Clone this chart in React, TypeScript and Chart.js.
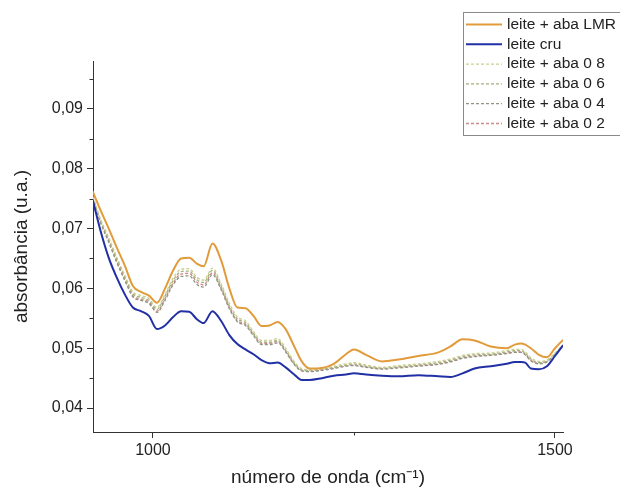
import React, { useEffect, useRef } from 'react';
import { Chart, registerables } from 'chart.js';

Chart.register(...registerables);

// wavenumber grid (cm-1)
const waveNumbers = [
  925, 935, 945, 955, 965, 975, 985, 995, 1005, 1015, 1025, 1035, 1045, 1055, 1063, 1074, 1085, 1095, 1105, 1115,
  1125, 1135, 1145, 1155, 1165, 1175, 1185, 1195, 1210, 1225, 1240, 1250, 1265, 1285, 1305, 1330, 1355, 1370, 1385,
  1400, 1420, 1440, 1450, 1458, 1463, 1470, 1480, 1490, 1500, 1510,
];

const leiteAbaLMR = [
  0.0762, 0.073, 0.07, 0.0668, 0.0638, 0.0604, 0.0594, 0.0588, 0.0576, 0.06, 0.063, 0.065, 0.0651, 0.0641, 0.0637,
  0.0675, 0.0646, 0.06, 0.0568, 0.0567, 0.0554, 0.0537, 0.0538, 0.0544, 0.0532, 0.0505, 0.0478, 0.0466, 0.0467,
  0.0474, 0.049, 0.0498, 0.0489, 0.0478, 0.0481, 0.0487, 0.0493, 0.0503, 0.0515, 0.0513, 0.0503, 0.05, 0.0506,
  0.0508, 0.0506, 0.05, 0.0489, 0.0485, 0.05, 0.0514,
];

const leiteCru = [
  0.0748, 0.0695, 0.0651, 0.0618, 0.059, 0.0568, 0.0562, 0.0554, 0.0532, 0.0538, 0.0552, 0.0562, 0.0561, 0.0548,
  0.0542, 0.0562, 0.0545, 0.0522, 0.0507, 0.0498, 0.049, 0.048, 0.0475, 0.0476, 0.0468, 0.0457, 0.0447, 0.0447,
  0.045, 0.0454, 0.0456, 0.0458, 0.0456, 0.0454, 0.0453, 0.0455, 0.0453, 0.0452, 0.0458, 0.0466, 0.047, 0.0474,
  0.0477, 0.0477, 0.0476, 0.0466, 0.0465, 0.047, 0.0487, 0.0505,
];

const leiteAba08 = [
  0.0754, 0.0715, 0.0685, 0.0652, 0.0622, 0.0594, 0.0588, 0.0583, 0.0568, 0.059, 0.0617, 0.0632, 0.0633, 0.0618,
  0.0614, 0.0634, 0.0607, 0.0575, 0.0552, 0.0546, 0.0528, 0.0513, 0.0513, 0.0516, 0.05, 0.0479, 0.0466, 0.0464,
  0.0466, 0.047, 0.0474, 0.0476, 0.0472, 0.0468, 0.0471, 0.0474, 0.0478, 0.0482, 0.0488, 0.0491, 0.0492, 0.0496,
  0.0498, 0.0498, 0.0494, 0.0484, 0.0478, 0.048, 0.0492, 0.0505,
];

const leiteAba06 = [
  0.0753, 0.0713, 0.0682, 0.0649, 0.0619, 0.0591, 0.0585, 0.058, 0.0565, 0.0587, 0.0613, 0.0628, 0.0629, 0.0614,
  0.061, 0.063, 0.0603, 0.0571, 0.0549, 0.0543, 0.0525, 0.051, 0.051, 0.0513, 0.0497, 0.0477, 0.0464, 0.0463,
  0.0465, 0.0468, 0.0472, 0.0474, 0.047, 0.0467, 0.0469, 0.0472, 0.0476, 0.048, 0.0486, 0.0489, 0.049, 0.0494,
  0.0496, 0.0496, 0.0492, 0.0482, 0.0476, 0.0479, 0.0491, 0.0504,
];

const leiteAba04 = [
  0.0751, 0.0709, 0.0677, 0.0643, 0.0613, 0.0586, 0.058, 0.0575, 0.056, 0.058, 0.0606, 0.062, 0.0621, 0.0606,
  0.0602, 0.0623, 0.0597, 0.0566, 0.0544, 0.0538, 0.0521, 0.0506, 0.0506, 0.0509, 0.0494, 0.0474, 0.0462, 0.0461,
  0.0463, 0.0466, 0.047, 0.0471, 0.0468, 0.0465, 0.0467, 0.047, 0.0473, 0.0477, 0.0483, 0.0486, 0.0488, 0.0491,
  0.0493, 0.0493, 0.0489, 0.0479, 0.0474, 0.0477, 0.049, 0.0503,
];

const leiteAba02 = [
  0.0752, 0.0711, 0.0679, 0.0646, 0.0616, 0.0588, 0.0582, 0.0577, 0.0562, 0.0583, 0.0609, 0.0624, 0.0625, 0.061,
  0.0606, 0.0626, 0.06, 0.0568, 0.0546, 0.054, 0.0523, 0.0508, 0.0508, 0.0511, 0.0495, 0.0475, 0.0463, 0.0462,
  0.0464, 0.0467, 0.0471, 0.0472, 0.0469, 0.0466, 0.0468, 0.0471, 0.0474, 0.0478, 0.0484, 0.0487, 0.0489, 0.0492,
  0.0494, 0.0494, 0.049, 0.048, 0.0475, 0.0478, 0.049, 0.0506,
];

const seriesLabels = ['leite + aba LMR', 'leite cru', 'leite + aba 0 8', 'leite + aba 0 6', 'leite + aba 0 4', 'leite + aba 0 2'];
const xMajorTicks = [1000, 1500];
const xMinorTicks = [1250];
const yMajorTicks = [0.04, 0.05, 0.06, 0.07, 0.08, 0.09];
const yMinorTicks = [0.045, 0.055, 0.065, 0.075, 0.085, 0.095];

const FONT = "'Liberation Sans', Arial, sans-serif";
const INK = '#222';

const toPoints = (ys: number[]) => waveNumbers.map((x, i) => ({ x, y: ys[i] }));

// small ticks + boxed legend drawn on top of the chart
const decorPlugin = {
  id: 'decor',
  afterDraw(chart: any) {
    const { ctx, chartArea, scales } = chart;
    ctx.save();
    ctx.strokeStyle = '#333';
    ctx.lineWidth = 1;
    ctx.beginPath();
    yMinorTicks.forEach((v) => {
      const py = Math.round(scales.y.getPixelForValue(v)) + 0.5;
      ctx.moveTo(chartArea.left - 3.5, py);
      ctx.lineTo(chartArea.left, py);
    });
    xMinorTicks.forEach((v) => {
      const px = Math.round(scales.x.getPixelForValue(v)) + 0.5;
      ctx.moveTo(px, chartArea.bottom);
      ctx.lineTo(px, chartArea.bottom + 3.5);
    });
    ctx.stroke();

    // legend
    const bx = 463.5;
    const by = 12.5;
    ctx.strokeStyle = '#8a8a8a';
    ctx.strokeRect(bx, by, 160, 123);
    ctx.font = `15.5px ${FONT}`;
    ctx.textBaseline = 'middle';
    chart.data.datasets.forEach((ds: any, i: number) => {
      const ry = 24.5 + i * 19.8;
      ctx.beginPath();
      ctx.strokeStyle = ds.borderColor;
      ctx.lineWidth = ds.borderWidth;
      ctx.setLineDash(ds.borderDash || []);
      ctx.moveTo(466, ry);
      ctx.lineTo(502, ry);
      ctx.stroke();
      ctx.setLineDash([]);
      ctx.fillStyle = INK;
      ctx.fillText(ds.label, 507, ry);
    });
    ctx.restore();
  },
};

export default function App() {
  const canvasRef = useRef<HTMLCanvasElement>(null);
  const chartRef = useRef<Chart | null>(null);

  useEffect(() => {
    document.body.style.margin = '0';
    if (!canvasRef.current) return;
    if (chartRef.current) chartRef.current.destroy();

    const dashed = (label: string, color: string, ys: number[]) => ({
      label,
      data: toPoints(ys),
      borderColor: color,
      borderWidth: 1.3,
      borderDash: [3, 2],
      pointRadius: 0,
      cubicInterpolationMode: 'monotone' as const,
    });

    chartRef.current = new Chart(canvasRef.current, {
      type: 'line',
      data: {
        datasets: [
          {
            label: seriesLabels[0],
            data: toPoints(leiteAbaLMR),
            borderColor: '#e29b3b',
            borderWidth: 2,
            pointRadius: 0,
            cubicInterpolationMode: 'monotone',
          },
          {
            label: seriesLabels[1],
            data: toPoints(leiteCru),
            borderColor: '#2230a6',
            borderWidth: 2,
            pointRadius: 0,
            cubicInterpolationMode: 'monotone',
          },
          dashed(seriesLabels[2], '#c9cf8e', leiteAba08),
          dashed(seriesLabels[3], '#a3b07e', leiteAba06),
          dashed(seriesLabels[4], '#8f9580', leiteAba04),
          dashed(seriesLabels[5], '#cf8a8a', leiteAba02),
        ],
      },
      options: {
        responsive: false,
        animation: false,
        layout: { padding: { top: 61, right: 57, left: 0, bottom: 0 } },
        plugins: {
          legend: { display: false },
          tooltip: { enabled: false },
        },
        scales: {
          x: {
            type: 'linear',
            min: 925.4,
            max: 1510,
            afterBuildTicks: (scale: any) => {
              scale.ticks = xMajorTicks.map((value) => ({ value }));
            },
            afterFit: (scale: any) => {
              scale.height = 61;
            },
            ticks: {
              color: INK,
              font: { family: FONT, size: 16 },
              padding: 3,
              maxRotation: 0,
              callback: (v: any) => String(v),
            },
            grid: { drawOnChartArea: false, tickLength: 6, color: '#333' },
            border: { color: '#333', width: 1 },
            title: {
              display: true,
              text: 'número de onda (cm⁻¹)',
              color: INK,
              font: { family: FONT, size: 19 },
              padding: { top: 0, bottom: 4 },
            },
          },
          y: {
            min: 0.036,
            max: 0.098,
            afterBuildTicks: (scale: any) => {
              scale.ticks = yMajorTicks.map((value) => ({ value }));
            },
            afterFit: (scale: any) => {
              scale.width = 93;
            },
            ticks: {
              color: INK,
              font: { family: FONT, size: 16 },
              padding: 4,
              callback: (v: any) => Number(v).toFixed(2).replace('.', ','),
            },
            grid: { drawOnChartArea: false, tickLength: 6, color: '#333' },
            border: { color: '#333', width: 1 },
            title: {
              display: true,
              text: 'absorbância (u.a.)',
              color: INK,
              font: { family: FONT, size: 19 },
              padding: { top: 10, bottom: 0 },
            },
          },
        },
      },
      plugins: [decorPlugin],
    });

    return () => {
      if (chartRef.current) {
        chartRef.current.destroy();
        chartRef.current = null;
      }
    };
  }, []);

  return (
    <div style={{ width: 620, height: 493, background: '#fff' }}>
      <canvas ref={canvasRef} width={620} height={493}></canvas>
    </div>
  );
}
